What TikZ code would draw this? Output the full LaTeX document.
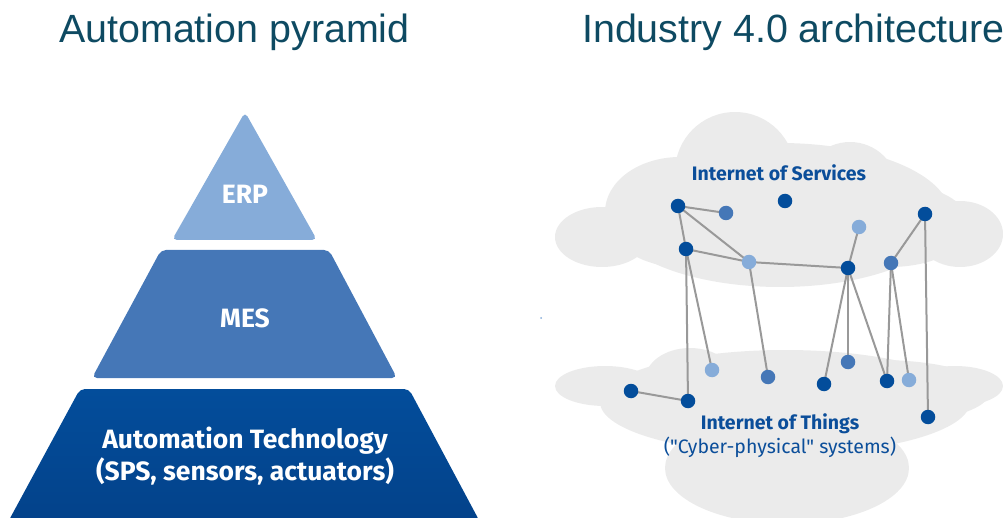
\documentclass[tikz,border=0pt]{standalone}
\usepackage{fontspec}
\setmainfont{Liberation Sans}
\newfontfamily\fira{Fira Sans}
\usetikzlibrary{backgrounds}
\definecolor{titlec}{HTML}{0E4A62}
\definecolor{lightb}{HTML}{86ACD9}
\definecolor{midb}{HTML}{4577B7}
\definecolor{darkb}{HTML}{034D9B}
\definecolor{darkb2}{HTML}{03428A}
\definecolor{cloudc}{HTML}{EBEBEB}
\definecolor{edgec}{HTML}{999999}
\definecolor{labc}{HTML}{0B4E9A}
\pgfdeclarelayer{clouds}
\pgfdeclarelayer{edges}
\pgfsetlayers{clouds,edges,main}
\tikzset{
  titletext/.style={text=titlec, font=\fontsize{39.4}{44}\selectfont, inner sep=0pt, anchor=base west},
  pyrtext/.style={text=white, font=\fira\bfseries\fontsize{26.5}{32}\selectfont, align=center, inner sep=0pt},
  cloudlab/.style={text=labc, font=\fira\bfseries\fontsize{19.5}{22}\selectfont, inner sep=0pt},
  cloudsub/.style={text=labc, font=\fira\fontsize{19.5}{22}\selectfont, inner sep=0pt},
  dot/.style={circle, inner sep=0pt, minimum size=14.5pt},
  dk/.style={dot, fill=darkb},
  md/.style={dot, fill=midb},
  lt/.style={dot, fill=lightb},
  link/.style={draw=edgec, line width=2pt},
}
\begin{document}
\begin{tikzpicture}[x=1pt,y=-1pt]
\useasboundingbox (0,0) rectangle (1006,518);
% titles
\node[titletext] (t1) at (59,43) {Automation pyramid};
\node[titletext] (t2) at (582,43) {Industry 4.0 architecture};
% pyramid
\fill[lightb, rounded corners=5pt] (245,112) -- (317,240) -- (172,240) -- cycle;
\fill[midb, rounded corners=5pt] (161,250) -- (329,250) -- (397,378) -- (92,378) -- cycle;
\begin{scope}
\clip (0,0) rectangle (1006,518);
\shade[top color=darkb, bottom color=darkb2, rounded corners=5pt] (80,389) -- (409,389) -- (480,522) -- (8,522) -- cycle;
\end{scope}
\node[pyrtext] (erp) at (245,194) {ERP};
\node[pyrtext] (mes) at (245,318) {MES};
\node[pyrtext] (at) at (245,456) {Automation Technology\\(SPS, sensors, actuators)};
% clouds
\begin{pgfonlayer}{clouds}
\fill[cloudc] (602,237) ellipse [x radius=47, y radius=30];
\fill[cloudc] (960,234) ellipse [x radius=43, y radius=33];
\fill[cloudc] (780,215) ellipse [x radius=170, y radius=72];
\fill[cloudc] (735,172) circle [radius=60];
\fill[cloudc] (850,190) circle [radius=48];
\fill[cloudc] (680,212) ellipse [x radius=75, y radius=55];
\fill[cloudc] (890,225) ellipse [x radius=80, y radius=42];
% bottom cloud
\fill[cloudc] (605,386) ellipse [x radius=50, y radius=20];
\fill[cloudc] (955,386) ellipse [x radius=48, y radius=20];
\fill[cloudc] (785,402) ellipse [x radius=185, y radius=52];
\fill[cloudc] (690,380) ellipse [x radius=45, y radius=32];
\fill[cloudc] (787,468) ellipse [x radius=122, y radius=56];
\fill[cloudc] (880,392) ellipse [x radius=110, y radius=32];
\end{pgfonlayer}
\node[cloudlab] (ios) at (779,173) {Internet of Services};
\node[cloudlab] (iot) at (780,424) {Internet of Things};
\node[cloudsub] (cps) at (780,447) {("Cyber-physical" systems)};
% network nodes
\node[dk] (n1) at (678,206) {};
\node[md] (n2) at (726,213) {};
\node[dk] (n3) at (785,201) {};
\node[dk] (n4) at (686,249) {};
\node[lt] (n5) at (749,262) {};
\node[dk] (n6) at (848,268) {};
\node[lt] (n7) at (859,227) {};
\node[dk] (n8) at (925,214) {};
\node[md] (n9) at (891,263) {};
\node[lt] (n10) at (712,370) {};
\node[md] (n11) at (768,377) {};
\node[dk] (n12) at (631,391) {};
\node[dk] (n13) at (688,401) {};
\node[dk] (n14) at (824,384) {};
\node[md] (n15) at (848,362) {};
\node[dk] (n16) at (887,381) {};
\node[lt] (n17) at (909,380) {};
\node[dk] (n18) at (928,417) {};
\node[circle, fill=lightb, inner sep=0pt, minimum size=2pt] (sp) at (541,318) {};
\begin{pgfonlayer}{edges}
\foreach \a/\b in {n1/n2, n1/n4, n1/n5, n4/n5, n5/n6, n6/n7, n4/n13, n4/n10, n5/n11, n6/n14, n6/n15, n6/n16, n9/n16, n9/n17, n9/n8, n8/n18, n12/n13}
  \draw[link] (\a.center) -- (\b.center);
\end{pgfonlayer}
\end{tikzpicture}
\end{document}
